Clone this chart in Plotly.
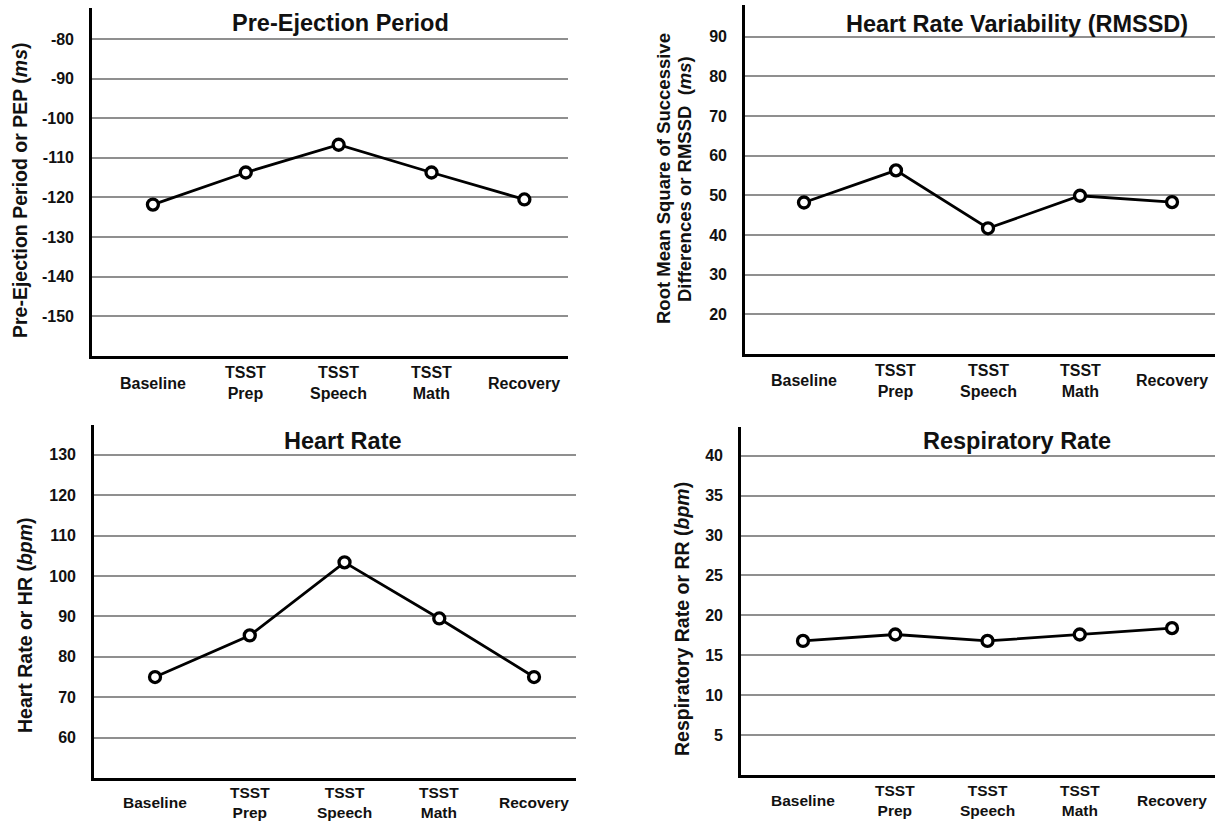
import plotly.graph_objects as go

W, H = 1215, 822

# ---------------- data ----------------
categories = ["Baseline", "TSST<br>Prep", "TSST<br>Speech", "TSST<br>Math", "Recovery"]
pep_values = [-121.8, -113.7, -106.7, -113.7, -120.5]
rmssd_values = [48.2, 56.3, 41.7, 49.9, 48.3]
hr_values = [75.0, 85.3, 103.4, 89.5, 75.0]
rr_values = [16.8, 17.6, 16.8, 17.6, 18.4]

pep_ticks = [-150, -140, -130, -120, -110, -100, -90, -80]
rmssd_ticks = [20, 30, 40, 50, 60, 70, 80, 90]
hr_ticks = [60, 70, 80, 90, 100, 110, 120, 130]
rr_ticks = [5, 10, 15, 20, 25, 30, 35, 40]

titles = ["Pre-Ejection Period", "Heart Rate Variability (RMSSD)", "Heart Rate", "Respiratory Rate"]
ytitles = [
    ["Pre-Ejection Period or PEP (<i>ms</i>)"],
    ["Root Mean Square of Successive", "Differences or RMSSD  (<i>ms</i>)"],
    ["Heart Rate or HR (<i>bpm</i>)"],
    ["Respiratory Rate or RR (<i>bpm</i>)"],
]

FONT = "Liberation Sans, Arial, Helvetica, sans-serif"


def px(x):
    return x / W


def py(y):
    return 1 - y / H


# panel geometry in pixels: left, right, top, bottom
panels = [
    dict(l=92, r=568, t=8, b=356, xr=[-0.656, 4.47], yr=[-160, -72.2], vals=pep_values, ticks=pep_ticks,
         title_xy=(340, 23), ytitle_xy=[(20, 191)], lab_dy=27, lab_size=16),
    dict(l=745, r=1215, t=5, b=354, xr=[-0.641, 4.467], yr=[10, 98], vals=rmssd_values, ticks=rmssd_ticks,
         title_xy=(1017, 24), ytitle_xy=[(663, 179), (684, 179)], lab_dy=27, lab_size=16),
    dict(l=94, r=576, t=425, b=778, xr=[-0.644, 4.443], yr=[50, 137.4], vals=hr_values, ticks=hr_ticks,
         title_xy=(343, 441), ytitle_xy=[(25, 625)], lab_dy=24.5, lab_size=15.5),
    dict(l=741, r=1215, t=427, b=775, xr=[-0.672, 4.466], yr=[0, 43.6], vals=rr_values, ticks=rr_ticks,
         title_xy=(1017, 441), ytitle_xy=[(682, 619)], lab_dy=25.5, lab_size=15.5),
]

fig = go.Figure()
annotations = []
xs = list(range(len(categories)))

for i, p in enumerate(panels):
    n = "" if i == 0 else str(i + 1)
    xa = "xaxis" + n
    ya = "yaxis" + n
    fig.add_trace(go.Scatter(
        x=xs, y=p["vals"], xaxis="x" + n, yaxis="y" + n,
        mode="lines+markers",
        line=dict(color="black", width=2.8),
        marker=dict(symbol="circle", size=11, color="white", line=dict(color="black", width=3.3)),
        showlegend=False, hoverinfo="x+y",
    ))
    fig.layout[xa] = dict(
        domain=[px(p["l"]), px(p["r"])], range=p["xr"], anchor="y" + n,
        showgrid=False, zeroline=False, showticklabels=False,
        showline=True, linecolor="black", linewidth=2.6, ticks="",
    )
    fig.layout[ya] = dict(
        domain=[py(p["b"]), py(p["t"])], range=p["yr"], anchor="x" + n,
        tickmode="array", tickvals=p["ticks"], ticktext=[str(t) for t in p["ticks"]],
        showgrid=True, gridcolor="#8f8f8f", gridwidth=1.8,
        zeroline=False, showline=True, linecolor="black", linewidth=2.6,
        ticks="outside", ticklen=12, tickcolor="rgba(0,0,0,0)",
        tickfont=dict(family=FONT, size=16, color="#111111", weight="bold"),
    )
    # chart title
    tx, ty = p["title_xy"]
    annotations.append(dict(
        text=titles[i], x=px(tx), y=py(ty), xref="paper", yref="paper",
        xanchor="center", yanchor="middle", showarrow=False,
        font=dict(family=FONT, size=23.5, color="#111111", weight="bold"),
    ))
    # y-axis title (one annotation per line)
    size = 19.5 if len(ytitles[i]) == 1 else 18.5
    for line, (yx, yy) in zip(ytitles[i], p["ytitle_xy"]):
        annotations.append(dict(
            text=line, x=px(yx), y=py(yy), xref="paper", yref="paper",
            xanchor="center", yanchor="middle", showarrow=False, textangle=-90,
            font=dict(family=FONT, size=size, color="#111111", weight="bold"),
        ))
    # category labels
    for k, c in enumerate(categories):
        annotations.append(dict(
            text=c, x=k, y=py(p["b"] + p["lab_dy"]), xref="x" + n, yref="paper",
            xanchor="center", yanchor="middle", showarrow=False, align="center",
            font=dict(family=FONT, size=p["lab_size"], color="#111111", weight="bold"),
        ))

fig.update_layout(
    width=W, height=H,
    margin=dict(l=0, r=0, t=0, b=0, pad=0),
    paper_bgcolor="white", plot_bgcolor="white",
    annotations=annotations,
    font=dict(family=FONT),
)

fig.write_html(
    "out.html",
    config={"displayModeBar": False},
    post_script="document.body.style.margin='0';document.body.style.overflow='hidden';",
)
